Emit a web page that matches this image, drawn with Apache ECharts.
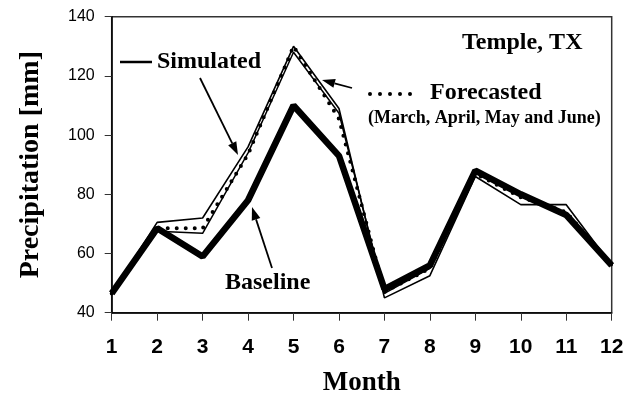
<!DOCTYPE html>
<html>
<head>
<meta charset="utf-8">
<script src="https://cdn.jsdelivr.net/npm/echarts@6/dist/echarts.min.js"></script>
<style>
html,body{margin:0;padding:0;background:#fff;}
#c{width:636px;height:395px;}
</style>
</head>
<body>
<div id="c"></div>
<script>
var months = ['1','2','3','4','5','6','7','8','9','10','11','12'];
var baseline = [46.5, 68.5, 59, 78, 110, 93, 48, 56, 88, 80, 73, 56];
var simulated = [46.5, 70.5, 72, 96, 130, 109, 45, 52.5, 86, 76.5, 76.5, 56];
var simulatedAlt = [46.5, 67.5, 66.8, 94, 128, 107.4, 46.5, 55, 88, 80, 73, 56];
var forecasted = [46.5, 68.5, 68.5, 93.5, 130, 105.5, 47, 55, 87, 79, 74, 56];
var yTicks = [40, 140, 20];

var SERIF = '"Liberation Serif", "Times New Roman", serif';
var SANS = '"Liberation Sans", Arial, sans-serif';

function arrow(x1, y1, x2, y2) {
  var dx = x2 - x1, dy = y2 - y1, L = Math.sqrt(dx*dx + dy*dy);
  var ux = dx / L, uy = dy / L, hl = 13, hw = 4.5;
  var bx = x2 - ux*hl, by = y2 - uy*hl;
  return [
    {type:'line', shape:{x1:x1, y1:y1, x2:bx, y2:by}, style:{stroke:'#000', lineWidth:1.8}, z:100},
    {type:'polygon', shape:{points:[[x2,y2],[bx - uy*hw, by + ux*hw],[bx + uy*hw, by - ux*hw]]}, style:{fill:'#000'}, z:100}
  ];
}

var chart = echarts.init(document.getElementById('c'));
var graphics = [];
graphics.push({type:'line', shape:{x1:120, y1:62, x2:152, y2:62}, style:{stroke:'#000', lineWidth:2.5}, z:100});
graphics.push({type:'text', left:157, top:50, style:{text:'Simulated', font:'bold 24px ' + SERIF, fill:'#000'}, z:100});
graphics.push({type:'text', left:462, top:31, style:{text:'Temple, TX', font:'bold 24px ' + SERIF, fill:'#000'}, z:100});
graphics.push({type:'line', shape:{x1:370, y1:94, x2:412, y2:94}, style:{stroke:'#000', lineWidth:4, lineDash:[0, 10], lineCap:'round'}, z:100});
graphics.push({type:'text', left:430, top:81, style:{text:'Forecasted', font:'bold 24px ' + SERIF, fill:'#000'}, z:100});
graphics.push({type:'text', left:368, top:109, style:{text:'(March, April, May and June)', font:'bold 18px ' + SERIF, fill:'#000'}, z:100});
graphics.push({type:'text', left:225, top:271, style:{text:'Baseline', font:'bold 24px ' + SERIF, fill:'#000'}, z:100});
graphics = graphics.concat(arrow(200, 78, 238, 155));
graphics = graphics.concat(arrow(352, 88, 322, 80));
graphics = graphics.concat(arrow(272, 268, 252, 207));

var option = {
  animation: false,
  backgroundColor: '#fff',
  grid: {left: 111.7, right: 24.3, top: 16.7, bottom: 82.3, containLabel: false, outerBoundsMode: 'none', show: true, borderColor: '#333', borderWidth: 1.5, backgroundColor: 'transparent'},
  xAxis: {
    type: 'category', data: months, boundaryGap: false,
    name: 'Month', nameLocation: 'middle', nameGap: 57,
    nameTextStyle: {fontFamily: SERIF, fontWeight: 'bold', fontSize: 27, color: '#000'},
    axisLine: {lineStyle: {color: '#000', width: 1.5}},
    axisTick: {show: true, length: 8, lineStyle: {color: '#333', width: 1}},
    axisLabel: {fontFamily: SANS, fontWeight: 'bold', fontSize: 21, color: '#000', margin: 24},
    splitLine: {show: false}
  },
  yAxis: {
    type: 'value', min: yTicks[0], max: yTicks[1], interval: yTicks[2],
    name: 'Precipitation [mm]', nameLocation: 'middle', nameGap: 67, nameRotate: 90,
    nameTextStyle: {fontFamily: SERIF, fontWeight: 'bold', fontSize: 28, color: '#000'},
    axisLine: {show: true, lineStyle: {color: '#000', width: 1.5}},
    axisTick: {show: true, length: 7, lineStyle: {color: '#333', width: 1}},
    axisLabel: {fontFamily: SANS, fontSize: 16, color: '#000', margin: 17},
    splitLine: {show: false}
  },
  series: [
    {name: 'Baseline', type: 'line', data: baseline, symbol: 'none', lineStyle: {color: '#000', width: 6.5}, z: 2},
    {name: 'Simulated (alt)', type: 'line', data: simulatedAlt, symbol: 'none', lineStyle: {color: '#000', width: 1.5}, z: 3},
    {name: 'Simulated', type: 'line', data: simulated, symbol: 'none', lineStyle: {color: '#000', width: 1.6}, z: 4},
    {name: 'Forecasted', type: 'line', data: forecasted, symbol: 'none', lineStyle: {color: '#000', width: 4, type: [0, 9], cap: 'round'}, z: 5}
  ],
  graphic: graphics
};
chart.setOption(option);
</script>
</body>
</html>
